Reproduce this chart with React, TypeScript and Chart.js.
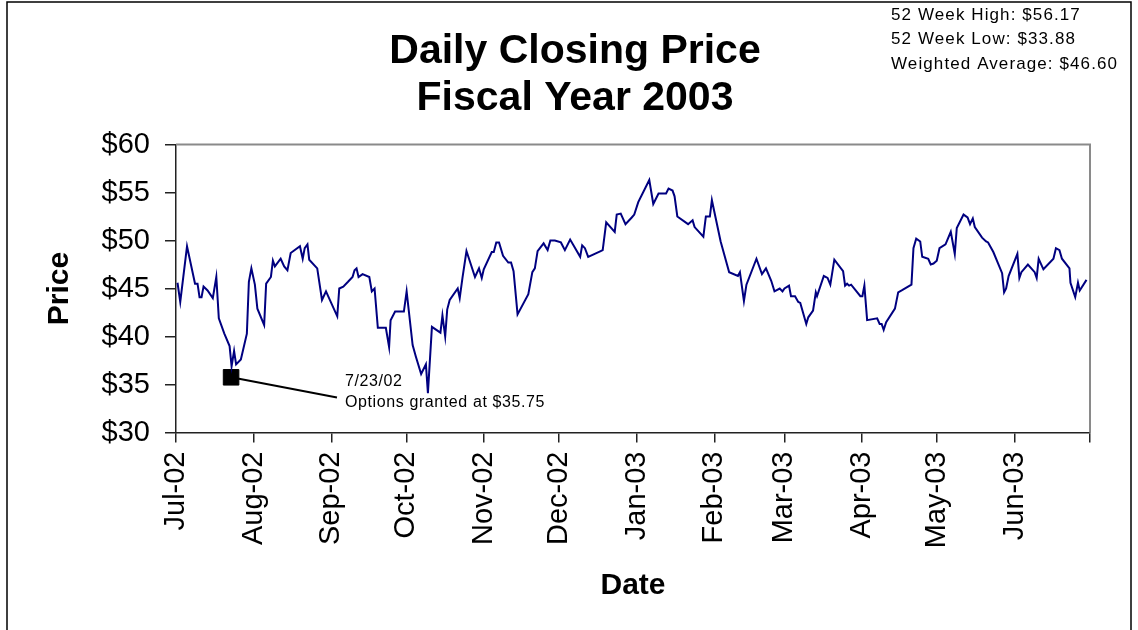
import { useEffect, useRef } from "react";
import { Chart, registerables } from "chart.js";

Chart.register(...registerables);

// Trading days, expressed as days since 1 Jul 2002
const DAYS = [
  0.6, 1.7, 4.4, 7.6, 8.6, 9.4, 10.2, 11.0, 12.6, 14.7, 16.1, 17.1, 19.3, 21.4, 22.2, 23.2, 24.0, 25.9,
  28.3, 29.1, 30.1, 31.5, 32.5, 35.2, 36.0, 37.9, 38.7, 39.5, 41.8, 43.2, 44.5, 45.8, 49.5, 50.6, 51.4,
  52.5, 53.2, 56.4, 58.3, 59.9, 64.4, 65.2, 66.8, 68.7, 70.5, 71.3, 72.1, 72.9, 74.5, 77.2, 78.2, 79.3,
  80.6, 83.8, 85.1, 85.7, 87.5, 91.0, 92.1, 94.5, 95.8, 97.9, 99.8, 100.6, 102.2, 105.6, 106.4, 107.5,
  108.3, 109.3, 112.5, 113.3, 114.4, 116.0, 119.4, 121.0, 122.1, 122.9, 126.1, 126.9, 127.9, 129.0,
  130.6, 132.7, 133.8, 134.8, 136.4, 140.7, 142.3, 143.3, 144.4, 146.8, 148.4, 149.5, 151.3, 153.7,
  155.3, 157.4, 161.4, 162.2, 163.3, 164.6, 169.6, 170.4, 171.8, 175.2, 176.0, 177.6, 179.5, 182.0,
  183.0, 184.6, 189.0, 190.6, 192.7, 195.7, 196.7, 198.3, 199.1, 200.2, 204.5, 206.3, 207.1, 210.6,
  211.6, 213.2, 214.0, 217.5, 220.9, 224.4, 225.2, 226.8, 227.8, 231.8, 234.0, 235.6, 237.7, 239.0,
  241.1, 242.2, 243.0, 244.8, 245.6, 247.2, 248.5, 249.3, 251.7, 252.5, 254.4, 255.5, 256.0, 258.7,
  260.2, 261.3, 262.9, 266.4, 267.2, 268.0, 268.8, 269.6, 273.3, 274.1, 274.9, 276.0, 280.0, 281.0,
  281.8, 282.6, 283.6, 287.1, 288.4, 289.8, 293.7, 294.5, 295.6, 297.2, 298.0, 300.4, 301.4, 302.5,
  303.8, 304.9, 307.3, 309.4, 311.0, 311.8, 314.5, 316.1, 317.1, 318.2, 319.0, 321.9, 323.5, 324.3,
  326.4, 329.9, 330.7, 331.5, 332.5, 336.0, 336.8, 337.6, 340.2, 342.9, 343.7, 344.5, 346.4, 350.4,
  351.4, 352.8, 353.8, 356.8, 357.2, 359.1, 360.2, 360.9, 363.6,
];

const PRICES = [
  45.6, 43.6, 49.4, 45.5, 45.5, 44.1, 44.1, 45.2, 44.8, 44.0, 46.2, 41.9, 40.3, 39.0, 36.9, 38.5, 37.1, 37.6,
  40.3, 45.7, 47.1, 45.4, 42.9, 41.2, 45.5, 46.2, 47.9, 47.3, 48.1, 47.3, 46.9, 48.7, 49.4, 48.1, 49.2,
  49.6, 48.0, 47.1, 43.8, 44.7, 42.1, 45.0, 45.2, 45.7, 46.2, 46.9, 47.1, 46.2, 46.5, 46.2, 44.7, 45.0,
  40.9, 40.9, 38.9, 41.7, 42.6, 42.6, 44.7, 39.1, 37.9, 36.1, 37.1, 34.1, 41.0, 40.4, 42.2, 40.0,
  42.8, 43.8, 45.0, 44.0, 46.1, 48.9, 46.2, 47.1, 46.1, 47.0, 48.8, 48.8, 49.8, 49.8,
  48.4, 47.7, 47.7, 46.8, 42.3, 44.4, 46.7, 47.1, 48.9, 49.7, 49.0, 50.0, 50.0, 49.8,
  49.0, 50.1, 48.3, 49.5, 49.2, 48.3, 48.9, 49.0, 51.9, 50.9, 52.7, 52.8, 51.7, 52.4,
  52.7, 54.0, 56.3, 53.8, 54.9, 54.9, 55.4, 55.2, 54.6, 52.5, 51.7, 52.1, 51.4, 50.4,
  52.5, 52.5, 54.2, 49.9, 46.7, 46.3, 46.7, 43.7, 45.4, 48.1, 46.5, 47.1, 45.8, 44.7,
  45.0, 44.7, 45.0, 45.3, 44.2, 44.2, 43.6, 43.5, 41.3, 42.0, 42.7, 44.6, 44.2, 46.3,
  46.1, 45.4, 48.0, 46.8, 45.3, 45.5, 45.3, 45.4, 44.2, 44.2, 45.3, 41.7, 41.9, 41.3,
  41.3, 40.7, 41.5, 42.9, 44.6, 44.8, 45.4, 49.2, 50.2, 49.9, 48.3, 48.1, 47.5, 47.6,
  47.9, 49.2, 49.6, 50.9, 48.6, 51.3, 52.7, 52.4, 51.7, 52.3, 51.4, 50.3, 49.9, 49.8,
  48.8, 46.6, 44.6, 45.0, 46.3, 48.6, 46.1, 46.7, 47.5, 46.7, 46.1, 48.1, 47.0, 48.1,
  49.2, 49.0, 48.1, 47.1, 45.6, 44.1, 45.6, 44.8, 45.9,
];

const MONTH_TICK_DAYS = [0, 31, 62, 92, 123, 153, 184, 215, 243, 274, 304, 335, 365];
const MONTH_TICK_LABELS = [
  "Jul-02", "Aug-02", "Sep-02", "Oct-02", "Nov-02", "Dec-02",
  "Jan-03", "Feb-03", "Mar-03", "Apr-03", "May-03", "Jun-03", "",
];
const Y_MIN = 30;
const Y_MAX = 60;
const Y_STEP = 5;

const GRANT_DAY = 22;
const GRANT_PRICE = 35.75;
const GRANT_TEXT = ["7/23/02", "Options granted at $35.75"];

const TITLE_LINES = ["Daily Closing Price", "Fiscal Year 2003"];
const STATS_LINES = ["52 Week High: $56.17", "52 Week Low: $33.88", "Weighted Average: $46.60"];
const X_TITLE = "Date";
const Y_TITLE = "Price";

const FONT = '"Liberation Sans", Arial, Helvetica, sans-serif';

const overlayPlugin = {
  id: "overlay",
  beforeDatasetsDraw(chart: any) {
    const ctx = chart.ctx;
    const a = chart.chartArea;
    ctx.save();
    ctx.strokeStyle = "#8a8a8a";
    ctx.lineWidth = 2;
    ctx.beginPath();
    ctx.moveTo(a.left, a.top);
    ctx.lineTo(a.right, a.top);
    ctx.lineTo(a.right, a.bottom);
    ctx.stroke();
    ctx.restore();
  },
  afterDraw(chart: any) {
    const ctx = chart.ctx;
    const a = chart.chartArea;
    const xs = chart.scales.x;
    const ys = chart.scales.y;
    ctx.save();

    // outer frame
    ctx.strokeStyle = "#000";
    ctx.lineWidth = 1.5;
    ctx.beginPath();
    ctx.moveTo(7, 700);
    ctx.lineTo(7, 2);
    ctx.lineTo(1131, 2);
    ctx.lineTo(1131, 700);
    ctx.stroke();

    ctx.fillStyle = "#000";
    // title
    ctx.font = `bold 41px ${FONT}`;
    ctx.textAlign = "center";
    ctx.textBaseline = "alphabetic";
    ctx.fillText(TITLE_LINES[0], 575, 63);
    ctx.fillText(TITLE_LINES[1], 575, 110);

    // stats
    ctx.font = `17px ${FONT}`;
    ctx.textAlign = "left";
    (ctx as any).letterSpacing = "1.1px";
    const statBase = [19.5, 44.3, 68.5];
    STATS_LINES.forEach((t, i) => ctx.fillText(t, 891, statBase[i]));

    // axis titles
    (ctx as any).letterSpacing = "0px";
    ctx.font = `bold 30px ${FONT}`;
    ctx.textAlign = "center";
    ctx.fillText(X_TITLE, (a.left + a.right) / 2, 594);
    ctx.save();
    ctx.translate(68, (a.top + a.bottom) / 2);
    ctx.rotate(-Math.PI / 2);
    ctx.fillText(Y_TITLE, 0, 0);
    ctx.restore();

    // annotation
    const px = xs.getPixelForValue(GRANT_DAY);
    const py = ys.getPixelForValue(GRANT_PRICE);
    ctx.strokeStyle = "#000";
    ctx.lineWidth = 2;
    ctx.beginPath();
    ctx.moveTo(px, py);
    ctx.lineTo(337, 397.5);
    ctx.stroke();
    ctx.font = `16px ${FONT}`;
    ctx.textAlign = "left";
    (ctx as any).letterSpacing = "0.6px";
    ctx.fillText(GRANT_TEXT[0], 345, 385.5);
    ctx.fillText(GRANT_TEXT[1], 345, 406.5);
    ctx.restore();
  },
};

export default function App() {
  const ref = useRef<HTMLCanvasElement | null>(null);

  useEffect(() => {
    if (!ref.current) return;
    const yTicks: number[] = [];
    for (let v = Y_MIN; v <= Y_MAX; v += Y_STEP) yTicks.push(v);

    const chart = new Chart(ref.current, {
      type: "line",
      data: {
        datasets: [
          {
            data: DAYS.map((d, i) => ({ x: d, y: PRICES[i] })),
            borderColor: "#000080",
            borderWidth: 2,
            pointRadius: 0,
            tension: 0,
            fill: false,
          },
          {
            data: [{ x: GRANT_DAY, y: GRANT_PRICE }],
            showLine: false,
            pointStyle: "rect",
            pointRadius: 11,
            pointBackgroundColor: "#000",
            pointBorderColor: "#000",
            pointBorderWidth: 1,
          },
        ],
      },
      options: {
        animation: false,
        responsive: true,
        maintainAspectRatio: false,
        devicePixelRatio: 1,
        layout: { padding: { top: 144.5, right: 48, left: 0, bottom: 0 } },
        plugins: { legend: { display: false }, tooltip: { enabled: false }, title: { display: false } },
        scales: {
          x: {
            type: "linear",
            min: 0,
            max: 365,
            afterFit: (s: any) => {
              s.height = 630 - 432.5;
            },
            afterBuildTicks: (s: any) => {
              s.ticks = MONTH_TICK_DAYS.map((v) => ({ value: v }));
            },
            ticks: {
              autoSkip: false,
              minRotation: 90,
              maxRotation: 90,
              padding: 9,
              color: "#000",
              font: { family: FONT, size: 29 },
              callback: (v: any) => {
                const i = MONTH_TICK_DAYS.indexOf(Number(v));
                return i >= 0 ? MONTH_TICK_LABELS[i] : "";
              },
            },
            grid: { drawOnChartArea: false, drawTicks: true, tickLength: 10, color: "#222", lineWidth: 1.5 },
            border: { display: true, color: "#222", width: 1.5 },
          },
          y: {
            min: Y_MIN,
            max: Y_MAX,
            afterFit: (s: any) => {
              s.width = 176;
            },
            afterBuildTicks: (s: any) => {
              s.ticks = yTicks.map((v) => ({ value: v }));
            },
            ticks: {
              padding: 15,
              color: "#000",
              font: { family: FONT, size: 29 },
              callback: (v: any) => "$" + v,
            },
            grid: { drawOnChartArea: false, drawTicks: true, tickLength: 11, color: "#222", lineWidth: 1.5 },
            border: { display: true, color: "#222", width: 1.5 },
          },
        },
      },
      plugins: [overlayPlugin],
    } as any);
    return () => chart.destroy();
  }, []);

  return (
    <div style={{ position: "absolute", left: 0, top: 0, width: 1138, height: 630, background: "#fff" }}>
      <canvas ref={ref} />
    </div>
  );
}
